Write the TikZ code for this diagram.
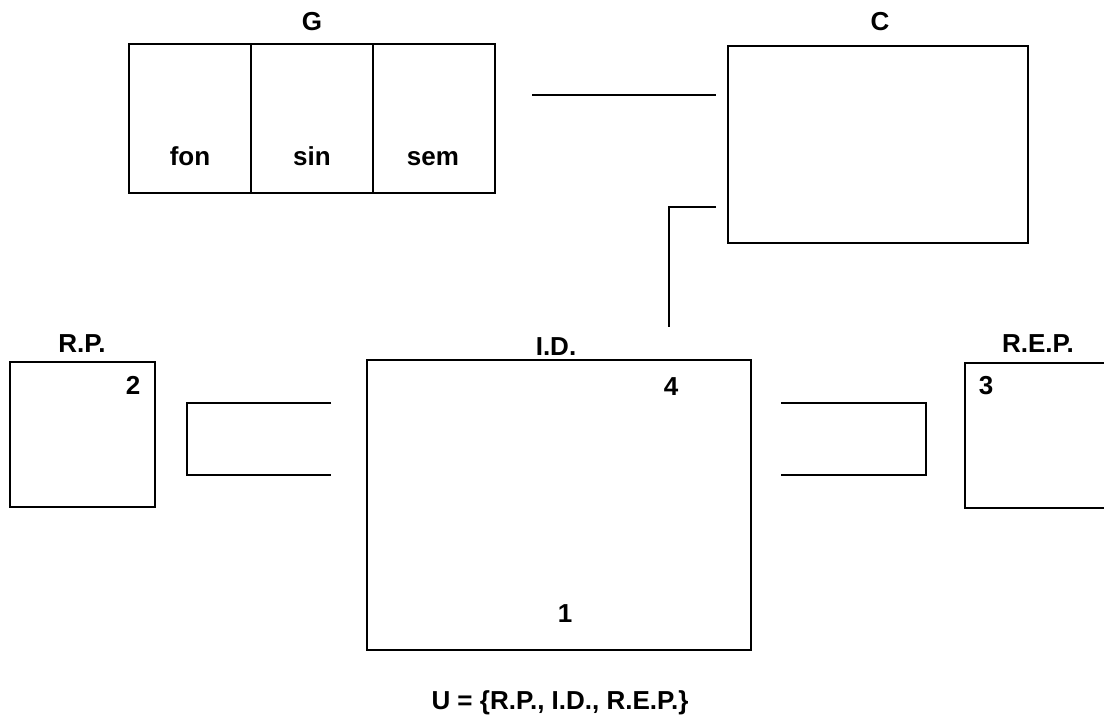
\documentclass[tikz,border=0pt]{standalone}
\usepackage{fontspec}
\setmainfont{Liberation Sans}
\begin{document}
\begin{tikzpicture}[x=1pt,y=-1pt,
  font=\fontsize{26}{30}\selectfont\bfseries,
  box/.style={draw, line width=2.2pt, rectangle, inner sep=0pt},
  cell/.style={draw, line width=1.3pt, rectangle, inner sep=0pt, minimum width=122pt, minimum height=149pt},
  wire/.style={line width=1.4pt},
  lbl/.style={inner sep=0pt, anchor=base}]
\useasboundingbox (0,0) rectangle (1104,715);
% G
\node[cell] (fon) at (190,118.5) {};
\node[cell] (sin) at (312,118.5) {};
\node[cell] (sem) at (434,118.5) {};
\node[box, minimum width=366pt, minimum height=149pt] (G) at (312,118.5) {};
\node[lbl] (Gl) at (312,30) {G};
\node[lbl] at (190,165) {fon};
\node[lbl] at (312,165) {sin};
\node[lbl] at (433,165) {sem};
% C
\node[box, minimum width=300pt, minimum height=197pt] (C) at (878,144.5) {};
\node[lbl] (Cl) at (880,30) {C};
% I.D.
\node[box, minimum width=384pt, minimum height=290pt] (ID) at (559,505) {};
\node[lbl] (IDl) at (556,355) {I.D.};
\node[lbl] (n4) at (671,395) {4};
\node[lbl] (n1) at (565,622) {1};
% R.P.
\node[box, minimum width=145pt, minimum height=145pt] (RP) at (82.5,434.5) {};
\node[lbl] (RPl) at (82,352) {R.P.};
\node[lbl] (n2) at (133,394) {2};
% R.E.P. (open to the right edge)
\node[inner sep=0pt, minimum width=145pt, minimum height=145pt] (REP) at (1037.5,435.5) {};
\draw[line width=2.2pt] (REP.north east) -- (REP.north west) -- (REP.south west) -- (REP.south east);
\node[lbl] (REPl) at (1038,352) {R.E.P.};
\node[lbl] (n3) at (986,394) {3};
% formula
\node[lbl] (U) at (560,709) {U = \{R.P., I.D., R.E.P.\}};
% connectors
\coordinate (gc1) at (532,95);
\coordinate (gc2) at (716,95);
\draw[wire] (gc1) -- (gc2);
\coordinate (ci1) at (716,207);
\coordinate (ci2) at (669,327);
\draw[wire] (ci1) -| (ci2);
\coordinate (l1) at (331,403);
\coordinate (l2) at (331,475);
\draw[wire] (l1) -- (187,403) -- (187,475) -- (l2);
\coordinate (r1) at (781,403);
\coordinate (r2) at (781,475);
\draw[wire] (r1) -- (926,403) -- (926,475) -- (r2);
\end{tikzpicture}
\end{document}
